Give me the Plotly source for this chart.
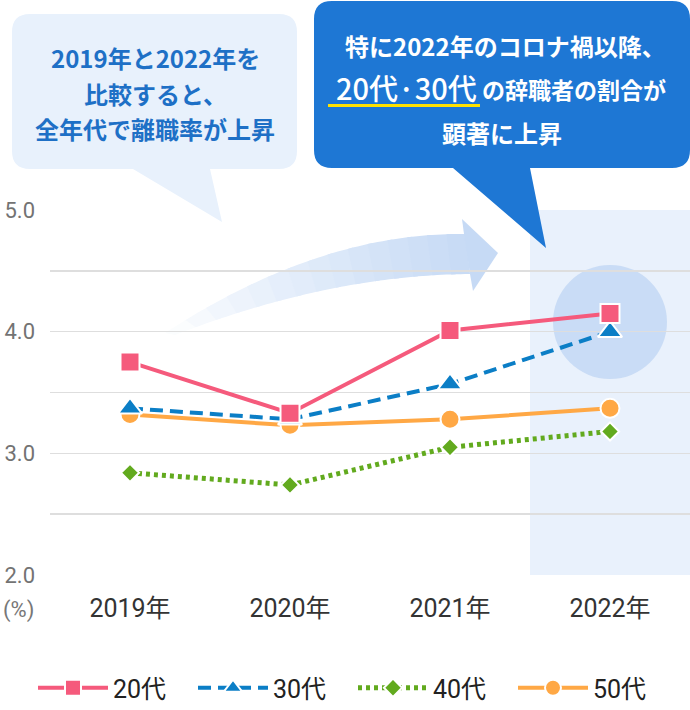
import plotly.graph_objects as go

# ---------------- data ----------------
years = ["2019年", "2020年", "2021年", "2022年"]
series_names = ["20代", "30代", "40代", "50代"]
v20 = [3.75, 3.33, 4.01, 4.15]
v30 = [3.37, 3.28, 3.57, 4.00]
v40 = [2.84, 2.74, 3.05, 3.18]
v50 = [3.32, 3.23, 3.28, 3.37]
y_tick_vals = [2.0, 2.5, 3.0, 3.5, 4.0, 4.5, 5.0]
y_tick_text = ["2.0", "", "3.0", "", "4.0", "", "5.0"]

# ---------------- geometry helpers (pixel -> paper) ----------------
W, H = 690, 710
PL, PR, PT, PB = 50, 690, 210, 575


def px(x):
    return (x - PL) / (PR - PL)


def py(y):
    return (PB - y) / (PB - PT)


def P(x, y):
    return f"{px(x):.5f},{py(y):.5f}"


def bubble_path(x0, y0, x1, y1, r, ta, tb, tip):
    tx, ty = tip
    return (
        f"M{P(x0 + r, y0)} L{P(x1 - r, y0)} Q{P(x1, y0)} {P(x1, y0 + r)} "
        f"L{P(x1, y1 - r)} Q{P(x1, y1)} {P(x1 - r, y1)} "
        f"L{P(tb, y1)} L{P(tx, ty)} L{P(ta, y1)} "
        f"L{P(x0 + r, y1)} Q{P(x0, y1)} {P(x0, y1 - r)} "
        f"L{P(x0, y0 + r)} Q{P(x0, y0)} {P(x0 + r, y0)} Z"
    )


def qbez(p0, pc, p2, t):
    x = (1 - t) ** 2 * p0[0] + 2 * (1 - t) * t * pc[0] + t ** 2 * p2[0]
    y = (1 - t) ** 2 * p0[1] + 2 * (1 - t) * t * pc[1] + t ** 2 * p2[1]
    return x, y


fig = go.Figure()

# traces drawn bottom -> top ; legend order set by legendrank
traces = [
    ("40代", v40, "#62AA1E", "4px,4px", 5, "diamond", 14, 3),
    ("50代", v50, "#FFA845", "solid", 4, "circle", 19, 4),
    ("30代", v30, "#0B7EC6", "13px,7px", 4, "triangle-up", 21, 2),
    ("20代", v20, "#F55A7C", "solid", 4, "square", 19, 1),
]
for name, vals, col, dash, lw, sym, ms, rank in traces:
    fig.add_trace(go.Scatter(
        x=years, y=vals, name=name, mode="lines+markers",
        line=dict(color=col, width=lw, dash=dash),
        marker=dict(symbol=sym, size=ms, color=col, line=dict(color="white", width=2)),
        legendrank=rank, hoverinfo="skip",
    ))

shapes = []
# highlight band for 2022
shapes.append(dict(type="rect", xref="x", yref="paper", x0=2.5, x1=3.5, y0=0, y1=1,
                   fillcolor="#E9F1FC", line=dict(width=0), layer="below"))
# highlight circle
shapes.append(dict(type="circle", xref="paper", yref="paper",
                   x0=px(553), x1=px(667), y0=py(379), y1=py(265),
                   fillcolor="rgba(170,200,240,0.5)", line=dict(width=0), layer="between"))

# gradient curved arrow
U0, Uc, U2 = (165, 333), (320, 232), (466, 234)
L0, Lc, L2 = (175, 335), (330, 275), (470, 274)
N = 60
ups = [qbez(U0, Uc, U2, i / N) for i in range(N + 1)]
lows = [qbez(L0, Lc, L2, i / N) for i in range(N + 1)]
head_rgb = (198, 218, 245)
nseg = 15
step = N // nseg
for s in range(nseg):
    i0 = s * step
    i1 = min(N, (s + 1) * step + 1)
    f = (s + 0.5) / nseg
    f = f ** 0.8
    c = tuple(int(round(255 + (hc - 255) * f)) for hc in head_rgb)
    pts = ups[i0:i1 + 1] + lows[i0:i1 + 1][::-1]
    path = "M" + " L".join(P(x, y) for x, y in pts) + " Z"
    shapes.append(dict(type="path", xref="paper", yref="paper", path=path,
                       fillcolor=f"rgb{c}", line=dict(width=0), layer="between"))
shapes.append(dict(type="path", xref="paper", yref="paper",
                   path=f"M{P(462, 219)} L{P(498, 253)} L{P(473, 291)} L{P(470, 274)} L{P(464, 234)} Z",
                   fillcolor=f"rgb{head_rgb}", line=dict(width=0), layer="between"))

# callout bubbles
shapes.append(dict(type="path", xref="paper", yref="paper",
                   path=bubble_path(12, 14, 297, 169, 18, 133, 210, (222, 222)),
                   fillcolor="#E8F1FC", line=dict(width=0), layer="above"))
shapes.append(dict(type="path", xref="paper", yref="paper",
                   path=bubble_path(314, 1, 690, 168, 18, 453, 530, (546, 248)),
                   fillcolor="#1E77D4", line=dict(width=0), layer="above"))
# yellow underline
shapes.append(dict(type="rect", xref="paper", yref="paper",
                   x0=px(328), x1=px(480), y0=py(107), y1=py(104),
                   fillcolor="#FFE100", line=dict(width=0), layer="above"))

fig.update_layout(shapes=shapes)

JP = "Noto Sans CJK JP"
ann = []


def add_text(text, x, y, size, color, xanchor="center", weight=700):
    ann.append(dict(text=text, x=px(x), y=py(y), xref="paper", yref="paper",
                    xanchor=xanchor, yanchor="middle", showarrow=False,
                    font=dict(family=JP, size=size, color=color, weight=weight)))


blue_txt = "#1E70C6"
add_text("2019年と2022年を", 155, 58, 24, blue_txt)
add_text("比較すると、", 155, 93, 24, blue_txt)
add_text("全年代で離職率が上昇", 155, 129, 24, blue_txt)

add_text("特に2022年のコロナ禍以降、", 505, 45, 24, "white")
add_text("20代·30代", 479, 87, 29, "white", xanchor="right", weight=500)
add_text("の辞職者の割合が", 480, 89, 23, "white", xanchor="left")
add_text("顕著に上昇", 502, 132, 24, "white")

ann.append(dict(text="(%)", x=px(1), y=py(610), xref="paper", yref="paper",
                xanchor="left", yanchor="middle", showarrow=False,
                font=dict(family="Roboto", size=22, color="#777777")))
fig.update_layout(annotations=ann)

fig.update_layout(
    width=W, height=H,
    margin=dict(l=PL, r=W - PR, t=PT, b=H - PB, pad=0),
    paper_bgcolor="white", plot_bgcolor="rgba(0,0,0,0)",
    hovermode=False,
    showlegend=True,
    legend=dict(orientation="h", xref="container", yref="container",
                x=33 / W, xanchor="left", y=(H - 688) / H, yanchor="middle",
                entrywidth=75, entrywidthmode="pixels", itemwidth=70,
                font=dict(family="Roboto, Noto Sans CJK JP", size=25, color="#222222"),
                bgcolor="rgba(0,0,0,0)"),
)
fig.update_xaxes(type="category", range=[-0.5, 3.5], showgrid=False, zeroline=False,
                 showline=False, ticks="", ticklabelstandoff=16,
                 tickfont=dict(family="Roboto, Noto Sans CJK JP", size=25, color="#333333"))
fig.update_yaxes(range=[2, 5], tickvals=y_tick_vals, ticktext=y_tick_text,
                 showgrid=True, gridcolor="#DEDEDE", gridwidth=1.5, zeroline=False,
                 showline=False, ticks="", ticklabelstandoff=14,
                 tickfont=dict(family="Roboto", size=22, color="#737373"))

fig.write_html("out.html", config={"displayModeBar": False, "staticPlot": True},
               post_script="document.body.style.margin='0px';document.body.style.overflow='hidden';")
